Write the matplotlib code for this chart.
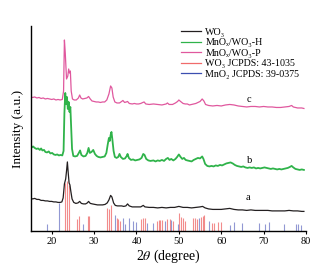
import matplotlib
matplotlib.use("Agg")
import matplotlib.pyplot as plt

plt.rcParams["font.family"] = ["Liberation Serif", "DejaVu Serif"]
plt.rcParams["mathtext.fontset"] = "stix"

# XRD patterns (2theta, intensity in arbitrary units incl. vertical offset)
x_a = [15, 15.5, 16, 16.5, 17, 17.5, 18, 18.5, 19, 19.5, 20, 20.5, 21, 21.5, 22, 22.4, 22.7, 23.0,
       23.3, 23.5, 23.7, 23.9, 24.1, 24.3, 24.5, 24.8, 25.2, 25.7, 26.2, 26.6, 27, 27.5, 28, 28.4,
       28.7, 29.1, 29.6, 30.2, 30.8, 31.4, 32, 32.6, 33.1, 33.5, 33.9, 34.2, 34.6, 35, 35.5, 36,
       36.5, 37, 37.5, 37.9, 38.3, 39, 40, 41, 41.6, 42, 43, 44, 45, 46, 47, 48, 49, 50, 50.5, 51,
       52, 53, 54, 55, 55.6, 56.2, 57, 58, 59, 60, 61, 62, 63, 64, 65, 66, 67, 68, 69, 70, 71, 72,
       73, 74, 75, 76, 77, 78, 79, 79.5]
y_a = [32.5, 32, 32.5, 31.5, 31.5, 30.5, 30.5, 30, 30, 29.5, 29.5, 29, 29, 28.5, 28.5, 29, 33, 47,
       52, 60, 69, 58, 48, 46, 40, 32, 28.5, 27.5, 28, 29.5, 27.5, 27, 27, 28,
       29.5, 27.5, 27, 26.5, 26, 26, 26, 26.5, 28, 31, 35.5, 34, 28, 25.5, 25, 25,
       25, 24.5, 25, 27, 25, 24, 24, 24, 25.5, 24, 23.5, 23.5, 23, 23.5, 23, 23.5, 23.5, 24.5, 24, 23.5,
       23.5, 23, 23.5, 24, 24.5, 23, 22, 21.5, 21.5, 21.5, 22, 22.5, 21.5, 21, 21, 20.5, 21, 20.5, 20.5, 20.5, 20.5, 20,
       20, 20, 20, 20.5, 20, 20, 19.5, 19.5]

x_b = [15, 15.3, 15.6, 16, 16.4, 16.8, 17.2, 17.5, 17.8, 18.2, 18.5, 18.9, 19.3, 19.7, 20.1, 20.5,
       20.9, 21.3, 21.7, 22.1, 22.5, 22.8, 23.0, 23.2, 23.4, 23.6, 23.8, 24.0, 24.2, 24.4, 24.6, 24.8,
       25.1, 25.5, 26, 26.4, 26.7, 27, 27.5, 28, 28.4, 28.7, 29.0, 29.4, 29.8, 30.2, 30.6, 31, 31.5,
       32, 32.5, 32.9, 33.2, 33.5, 33.7, 33.9, 34.1, 34.3, 34.6, 34.9, 35.3, 35.7, 36.0, 36.3, 36.8,
       37.3, 37.7, 37.9, 38.2, 38.7, 39.2, 39.7, 40.2, 40.7, 41.2, 41.6, 41.9, 42.3, 42.8, 43.3, 44,
       44.5, 45, 45.5, 46, 46.5, 47, 47.4, 47.8, 48.2, 48.7, 49.2, 49.6, 50.0, 50.4, 50.8, 51.2, 51.6,
       52, 52.5, 53, 53.5, 54, 54.5, 55, 55.5, 55.8, 56.2, 56.7, 57.2, 57.7, 58.2, 58.7, 59.2, 59.7,
       60.2, 60.7, 61.2, 61.7, 62.2, 62.7, 63.2, 63.7, 64.2, 64.7, 65.2, 65.7, 66.2, 66.7, 67.2, 67.7,
       68.2, 68.7, 69.2, 69.7, 70.2, 70.7, 71.2, 71.7, 72.2, 72.7, 73.2, 73.7, 74.2, 74.7, 75.2, 75.7,
       76.2, 76.6, 77, 77.5, 78, 78.5, 79, 79.5]
y_b = [85, 83.5, 84.5, 83, 82, 82.5, 81, 82.5, 80.5, 81, 79, 78.5, 79.5, 77.5, 78, 76.5,
       76, 76.5, 75.5, 76, 75.5, 80, 118, 138, 127, 134, 122, 129, 119, 124, 104, 82,
       75, 74.5, 75, 78, 80.5, 76, 74.5, 75, 78, 83, 78, 79, 81, 77, 75, 74, 73.5,
       74, 74.5, 78, 86, 93, 90, 96, 99, 92, 80, 74, 73, 74, 77, 74, 72,
       72.5, 75, 77, 73, 71, 71.5, 70.5, 71, 71.5, 73, 77, 76, 72, 70.5, 70, 70.5,
       69.5, 70.5, 70, 71, 70, 72, 73, 71, 72, 70.5, 72, 74, 76.5, 74, 72, 73, 71,
       70.5, 70, 69.5, 71, 72, 73, 72.5, 74.5, 72, 67, 65, 64.5, 65, 64.5, 65.5, 65, 66,
       65.5, 66.5, 67.5, 68, 68.5, 67.5, 66, 65, 64.5, 64, 64.5, 63.5, 63, 63.5, 63, 63.5,
       62.5, 63, 62.5, 63, 63.5, 63, 62.5, 62, 62.5, 62, 61.5, 62, 61.5, 62, 62.5, 63,
       64, 65, 63.5, 62, 61.5, 61, 61.5, 61]

x_c = [15, 15.5, 16, 16.5, 17, 17.5, 18, 18.5, 19, 19.5, 20, 20.5, 21, 21.5, 22, 22.5, 22.8, 23.0,
       23.2, 23.5, 23.8, 24.0, 24.2, 24.4, 24.6, 24.9, 25.3, 25.8, 26.3, 26.6, 26.9, 27.3, 27.8, 28.3,
       28.7, 29.1, 29.5, 30, 30.5, 31, 31.5, 32, 32.5, 33.0, 33.5, 33.9, 34.2, 34.5, 34.9, 35.4, 36,
       36.5, 36.8, 37.2, 37.6, 37.9, 38.3, 39, 39.5, 40, 40.5, 41, 41.5, 41.8, 42.2, 43, 44, 45, 46,
       46.5, 47, 47.3, 47.7, 48.5, 49.2, 49.7, 50.0, 50.4, 51, 51.5, 52, 52.5, 53, 53.5, 54, 54.5,
       55.0, 55.5, 55.9, 56.3, 57, 58, 59, 60, 61, 62, 63, 64, 65, 66, 67, 68, 69, 70, 71, 72, 73,
       74, 75, 76, 76.6, 77, 78, 79, 79.5]
y_c = [134, 133.5, 134, 133, 133.5, 132.5, 133, 132, 132.5, 132, 131.5, 132, 131, 131.5, 131, 131.5, 140, 191,
       178, 152, 155, 162, 158, 160, 140, 132, 131, 131, 133, 136, 133, 132, 132.5, 133,
       134.5, 132, 130, 129.5, 129, 129, 128.5, 129, 129, 131, 137, 145, 143, 134, 129, 128, 128,
       129.5, 130.5, 128.5, 129, 129.5, 127.5, 127, 127.5, 127, 127, 127.5, 128.5, 129, 127, 126.5, 127, 126.5, 126,
       126.5, 127, 128, 126.5, 126.5, 128, 129.5, 131, 129.5, 127.5, 127, 127, 126, 126.5, 127, 127.5, 128.5,
       129.5, 132, 130, 126.5, 125.5, 125, 125.5, 125, 126, 126.5, 126, 125, 124.5, 124, 124.5, 124.5, 124, 124.5, 124, 124, 123.5,
       123.5, 124, 124.5, 125.5, 124, 123, 123, 122.5]

# reference patterns (peak position, relative height)
wo3_pos = [23.1, 23.6, 24.1, 25.9, 26.5, 28.5, 28.9, 33.1, 33.6, 34.1, 35.35, 35.7, 36.1, 41.1, 41.5,
           41.9, 44.8, 45.2, 45.6, 46.1, 47.3, 47.8, 48.7, 50.1, 50.5, 50.9, 51.5, 53.45, 53.8, 54.2,
           55.2, 55.6, 56.0, 57.8, 58.3, 59.3, 59.9]
wo3_h = [48, 50, 46, 11.5, 15, 15, 15, 23, 21.5, 26, 12.7, 11.7, 10, 11.7, 12.7,
         12.7, 10, 10.5, 10.5, 10.5, 11.5, 11.5, 10, 18, 13.5, 12.7, 10, 12.7, 12.7, 12,
         13.5, 14.7, 15.7, 8, 8, 9, 9]
mno2_pos = [19.0, 21.7, 27.3, 35.0, 36.8, 37.4, 38.3, 39.2, 40.0, 42.6, 44.0, 46.8, 48.2, 49.75,
            54.8, 57.0, 62.1, 63.0, 65.0, 69.0, 70.4, 71.2, 74.7, 77.7, 78.2, 78.9]
mno2_h = [7, 28, 6.5, 16, 13, 6.5, 12.7, 10, 9, 8, 8, 10, 11, 6.5,
          12.7, 10, 6, 9.3, 7.7, 8.3, 7, 9, 6.7, 6.7, 6.7, 6]

fig = plt.figure(figsize=(3.28, 2.71), dpi=100)
ax = fig.add_axes([0.093, 0.148, 0.840, 0.756])

ax.vlines(wo3_pos, 0, wo3_h, color="#f07878", lw=0.8, alpha=0.85)
ax.vlines(mno2_pos, 0, mno2_h, color="#7f86cc", lw=0.8, alpha=0.85)
ax.plot(x_a, y_a, color="#231f20", lw=0.9)
ax.plot(x_b, y_b, color="#2fb34a", lw=1.3)
ax.plot(x_c, y_c, color="#e0589e", lw=0.9)

# legend entries
ax.plot([], [], color="#231f20", lw=0.9, label="WO₃")
ax.plot([], [], color="#2fb34a", lw=0.9, label="MnOₓ/WO₃-H")
ax.plot([], [], color="#e0589e", lw=0.9, label="MnOₓ/WO₃-P")
ax.plot([], [], color="#f06b6b", lw=0.9, label="WO₃ JCPDS: 43-1035")
ax.plot([], [], color="#3c4fb0", lw=0.9, label="MnO₂ JCPDS: 39-0375")
ax.legend(loc="upper right", bbox_to_anchor=(0.99, 1.01), frameon=False,
          fontsize=7.2, handlelength=2.0, handletextpad=0.4, labelspacing=0.15, borderaxespad=0.0)

ax.text(66.0, 129, "c", fontsize=7.5)
ax.text(66.1, 68, "b", fontsize=7.5)
ax.text(65.8, 31, "a", fontsize=7.5)

ax.set_xlim(15, 80)
ax.set_ylim(0, 205)
ax.set_xticks([20, 30, 40, 50, 60, 70, 80])
ax.tick_params(axis="x", direction="out", length=2.5, width=0.8, labelsize=7.5, pad=2)
ax.set_yticks([])
for s in ["top", "right"]:
    ax.spines[s].set_visible(False)
for s in ["left", "bottom"]:
    ax.spines[s].set_linewidth(1.0)
ax.set_xlabel(r"2$\theta$ (degree)", fontsize=10, labelpad=1)
ax.set_ylabel("Intensity (a.u.)", fontsize=9.5, labelpad=5)

fig.savefig("out.png", dpi=100)
